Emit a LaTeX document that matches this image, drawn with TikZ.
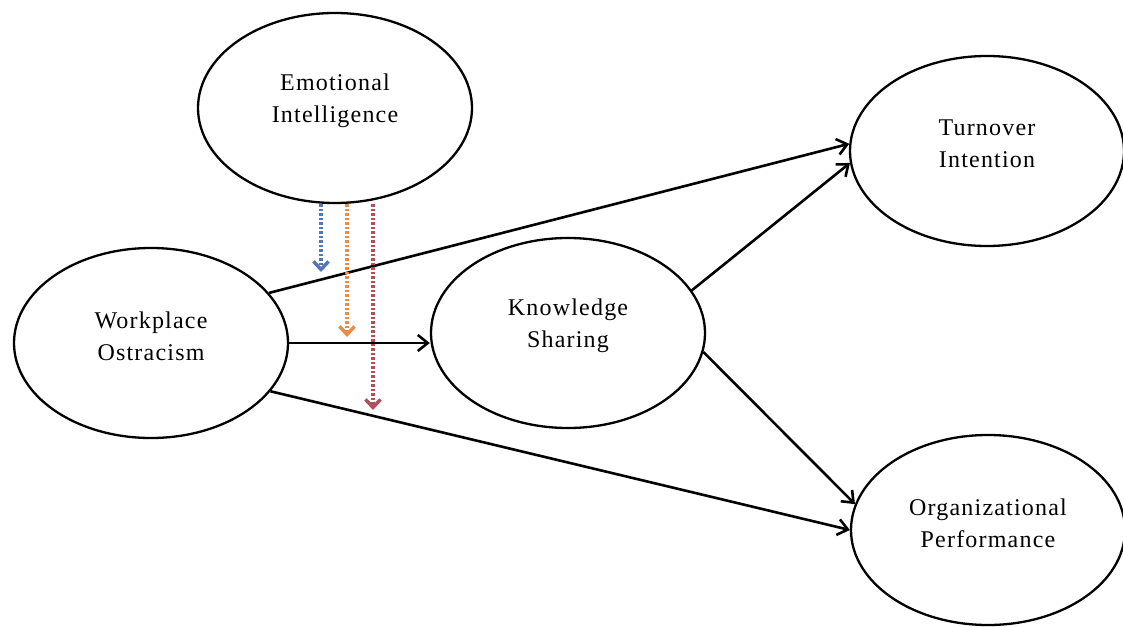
\documentclass[tikz,border=0pt]{standalone}
\usepackage{fontspec}
\setmainfont{Liberation Serif}[LetterSpace=5.0]
\usetikzlibrary{shapes.geometric,arrows.meta}
\definecolor{modblue}{RGB}{80,120,185}
\definecolor{modorange}{RGB}{232,140,70}
\definecolor{modred}{RGB}{180,78,92}
\tikzstyle{construct}=[ellipse,draw,line width=2.3pt,minimum width=274pt,minimum height=190pt,inner sep=0]
\tikzstyle{construct text}=[align=center,font=\fontsize{24}{32}\selectfont,yshift=7pt]
\tikzstyle{path arrow}=[line width=2.6pt,-{Straight Barb[length=10pt,width=16pt]}]
\tikzstyle{moderator}=[line width=3.5pt,dash pattern=on 2.5pt off 2pt,-{Straight Barb[length=8pt,width=15pt]}]

\begin{document}
\begin{tikzpicture}[x=1pt,y=-1pt]
		\useasboundingbox (0,0) rectangle (1123,628);

		\node(emo)[construct,label={[construct text]center:Emotional\\Intelligence}] at (335,108) {};
		\node(wo)[construct,label={[construct text]center:Workplace\\Ostracism}] at (151,343) {};
		\node(ks)[construct,label={[construct text]center:Knowledge\\Sharing}] at (568,333) {};
		\node(tu)[construct,label={[construct text]center:Turnover\\Intention}] at (987,151) {};
		\node(op)[construct,label={[construct text]center:Organizational\\Performance}] at (988,530) {};

		\draw[path arrow] (wo.23) -- (tu.177);
		\draw[path arrow] (ks.19) -- (tu.185);
		\draw[path arrow] (wo.east) -- (wo.east -| ks.west);
		\draw[path arrow] (wo.-22) -- (op.west);
		\draw[path arrow] (ks.-8) -- (op.169);

		% moderating effects
		\coordinate(m1) at (321,272);
		\coordinate(m2) at (347,337);
		\coordinate(m3) at (373,410);
		\draw[moderator,modblue] (m1 |- emo.south) -- (m1);
		\draw[moderator,modorange] (m2 |- emo.south) -- (m2);
		\draw[moderator,modred] (m3 |- emo.south) -- (m3);

\end{tikzpicture}
\end{document}
